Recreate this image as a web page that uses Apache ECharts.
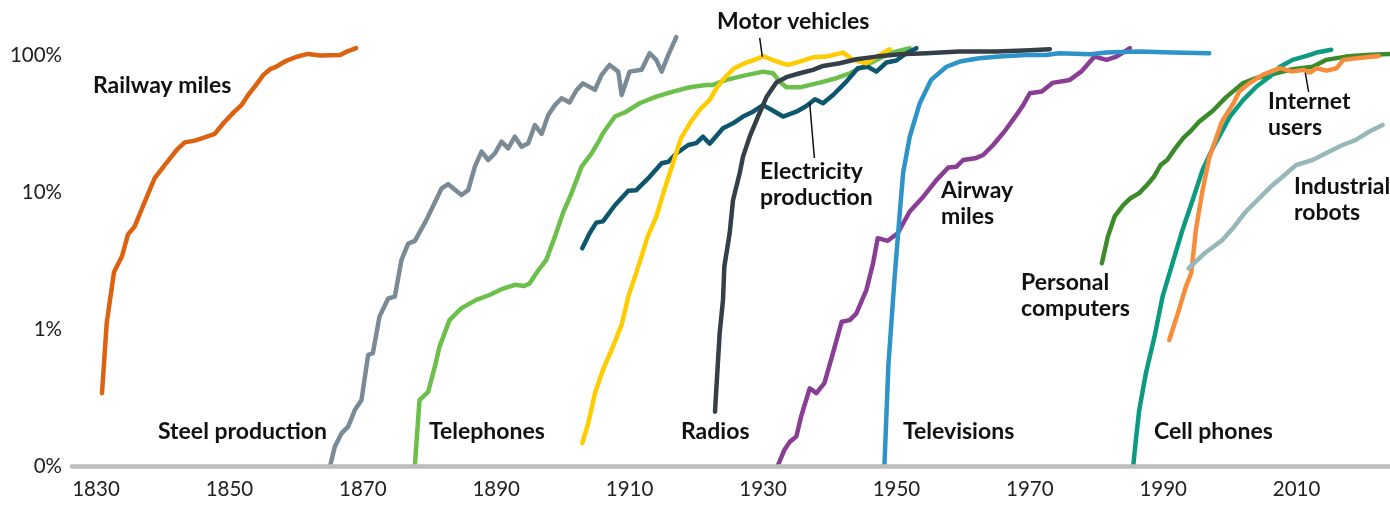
<!DOCTYPE html>
<html>
<head>
<meta charset="utf-8">
<title>Adoption curves</title>
<script src="https://cdn.jsdelivr.net/npm/echarts@6.0.0/dist/echarts.min.js"></script>
<style>
    html, body { margin: 0; padding: 0; background: #fff; }
    #main { width: 1390px; height: 508px; }
</style>
</head>
<body>
<div id="main"></div>
<script>
// x tick labels (years)
var yearTicks = [1830, 1850, 1870, 1890, 1910, 1930, 1950, 1970, 1990, 2010];

// each series: [year, percent]
var railwayMiles = [[1830.9,0.34],[1831.6,1.1],[1832.7,2.6],[1833.9,3.4],[1834.8,4.9],[1835.8,5.6],[1837.1,8.0],[1838.8,12.6],[1840.3,15.7],[1842.1,20.3],[1843.3,23],[1844.8,23.7],[1846.3,25],[1847.8,26.5],[1849.1,31.7],[1850.6,37.9],[1851.8,43],[1852.8,51],[1853.8,58.7],[1855.1,71.5],[1856.1,78.7],[1856.8,81],[1858.6,91],[1860.1,97],[1861.8,101.7],[1863.6,99],[1866.6,100],[1867.6,105.7],[1869.0,112]];
var steelProduction = [[1865.1,0.1],[1865.8,0.138],[1866.8,0.173],[1867.8,0.194],[1868.8,0.256],[1869.8,0.303],[1870.8,0.646],[1871.5,0.665],[1872.5,1.23],[1873.8,1.67],[1874.8,1.72],[1875.8,3.19],[1876.8,4.2],[1877.8,4.4],[1879.5,6.2],[1881.8,10.6],[1882.8,11.4],[1884.8,9.5],[1885.8,10.3],[1886.8,15.3],[1887.8,19.7],[1888.8,17.1],[1889.8,19.1],[1890.8,23.3],[1891.8,20.8],[1892.8,25.3],[1893.8,21.4],[1894.8,22.7],[1895.8,30.8],[1896.8,26.5],[1897.8,36.5],[1898.8,43],[1899.8,48.3],[1901,45],[1902,55],[1903,62],[1904.8,55.6],[1905.8,71.5],[1907,84.5],[1908.3,75.5],[1908.8,51],[1910,75.5],[1911.8,78],[1913,103],[1914,92],[1914.8,75.5],[1915.8,100],[1917,135]];
var telephones = [[1877.8,0.1],[1878.5,0.303],[1879.8,0.348],[1880.8,0.531],[1881.5,0.743],[1883,1.16],[1884.8,1.42],[1887,1.63],[1889,1.77],[1890.8,1.95],[1892.8,2.1],[1894.2,2.06],[1895,2.15],[1896,2.55],[1897.5,3.19],[1898.8,4.72],[1900,7.0],[1901.3,9.8],[1902.8,15.3],[1904.3,19.1],[1905.5,24],[1906,26.8],[1907.8,35.5],[1909.5,38.5],[1911.5,44.4],[1914,49.6],[1916.5,54],[1919,58.1],[1921.5,60.4],[1922.5,60.4],[1924.5,65.7],[1927,70.3],[1930,75.5],[1931.5,73.5],[1932.5,63.8],[1933.5,58],[1935.5,58],[1938.5,62.8],[1941,67.6],[1943,73.5],[1945,82],[1947,92],[1949,103],[1952,112]];
var electricityProduction = [[1902.9,3.88],[1904,5.0],[1905,5.97],[1906,6.1],[1907.8,8.0],[1909.8,10.2],[1911,10.3],[1913,12.9],[1914.8,16.2],[1915.8,16.6],[1917,19.1],[1918.8,22],[1920,22.7],[1921,25.3],[1922,22.5],[1924,29.2],[1925.5,31.7],[1927,35.5],[1928.5,38.5],[1930,43],[1931.2,40],[1933,35.5],[1935,38.5],[1936.5,42.4],[1937.8,47.5],[1939,44.4],[1940.5,51],[1942.5,63.8],[1944.2,80],[1945.7,82],[1947,75.5],[1948.5,88],[1950,91],[1951.5,103],[1953,112]];
var motorVehicles = [[1902.9,0.147],[1903.8,0.205],[1904.8,0.34],[1906,0.502],[1907.5,0.743],[1908.8,1.07],[1909.8,1.72],[1911.3,2.85],[1912.7,4.72],[1914,6.6],[1915.2,10.3],[1916.5,16.2],[1917.7,24.7],[1919.2,32.6],[1920.7,40.8],[1922,47],[1923,57],[1924.2,67.6],[1925.7,80],[1927.5,88],[1929,93],[1930,98],[1931.2,93],[1932.5,88],[1933.7,84.5],[1935.5,89.4],[1937.5,96],[1939.5,97.2],[1942,104],[1943.5,92],[1945.5,87],[1947.5,100],[1949,110]];
var radios = [[1922.8,0.249],[1923.2,0.53],[1923.5,0.93],[1924,1.63],[1924.2,2.85],[1925,5.0],[1925.5,8.7],[1926.5,13.7],[1927,18.1],[1928,25.3],[1929.2,35],[1930.5,49],[1932,63],[1933.5,68.8],[1935.5,73.5],[1937.5,77.8],[1939,83.1],[1941.5,87],[1944,93],[1947,97.2],[1950.5,101],[1954.5,103],[1959.4,105.7],[1965,106],[1970,108],[1973,110]];
var airwayMiles = [[1932.2,0.1],[1933.2,0.131],[1934,0.15],[1935,0.164],[1935.7,0.229],[1937,0.369],[1938,0.34],[1939.2,0.402],[1940.2,0.594],[1941.8,1.13],[1943,1.16],[1944,1.3],[1945.5,1.93],[1946.5,3.02],[1947.2,4.6],[1948.7,4.4],[1950.2,5.0],[1952,7.2],[1954,9.2],[1956,12.2],[1957.8,15.1],[1959,15.3],[1960,17.1],[1961.8,17.6],[1963,18.6],[1964.5,22],[1966.2,27.6],[1968,36.5],[1969,43],[1970,52.5],[1971.8,54],[1973.4,62.5],[1976,65.7],[1977.7,75.5],[1979.7,97.2],[1981.5,92],[1983,97.2],[1985,112]];
var televisions = [[1948.2,0.1],[1948.8,0.55],[1949.7,2.28],[1950.5,7.0],[1951,13.7],[1952,25.3],[1953.5,44.4],[1955.2,65.7],[1957.5,82],[1959.5,89.4],[1962.4,94.6],[1965.4,97.2],[1969.4,100],[1972.4,100],[1974.4,103],[1979,101],[1981.5,104],[1986.4,106],[1991.3,104],[1996.9,103]];
var personalComputers = [[1980.8,3.02],[1981.7,4.72],[1982.7,6.6],[1984,8.0],[1985.1,9.0],[1986.4,9.8],[1987.6,11.3],[1988.6,12.9],[1989.6,15.7],[1990.6,17.1],[1991.8,20.8],[1993,24.7],[1994.3,28.4],[1995.4,32.6],[1997.4,39],[1999.4,49],[2001.9,62],[2003.9,67.6],[2006.9,73.5],[2009.4,78.7],[2012.4,82],[2014.4,92],[2017.4,97.2],[2020.4,100],[2023.9,101.7]];
var cellPhones = [[1985.5,0.1],[1985.9,0.155],[1986.4,0.256],[1987.4,0.475],[1988.7,0.88],[1989.9,1.72],[1991.4,3.02],[1992.9,5.3],[1994.4,8.7],[1995.9,14.5],[1997.4,20.8],[1999.2,30],[2000,35.5],[2002,47],[2004,58.8],[2006,69.5],[2007.5,82],[2009.4,92],[2011.5,98.3],[2013,104],[2015.2,109]];
var internetUsers = [[1990.9,0.83],[1992.2,1.3],[1993.4,2.04],[1994.2,2.55],[1994.9,5.3],[1995.9,10.3],[1996.9,17.8],[1998.8,32.6],[2000.6,45],[2001.4,54],[2002.9,62],[2004.9,71.5],[2007.5,80],[2009.4,75.5],[2011,77.8],[2012,74.3],[2013,80],[2014.5,76.8],[2016,80],[2017,92],[2019,94.6],[2022.3,98.3]];
var industrialRobots = [[1993.8,2.77],[1996.2,3.57],[1998.9,4.47],[2000.4,5.4],[2002.4,7.2],[2004.1,8.7],[2006.1,10.9],[2007.9,12.9],[2009.9,15.7],[2012.4,17.1],[2014.9,19.7],[2016.9,22],[2018.9,24],[2020.9,27.6],[2022.9,30.8]];

// callout leader lines: [from, to] in data space
var motorCallout = [[1929.5,133],[1929.9,96.7]];
var electricityCallout = [[1937.0,44.6],[1937.7,17.7]];
var internetCallout = [[2011.3,74],[2011.8,53.7]];

function lineSeries(name, data, color, callout) {
    var s = {
        name: name,
        type: 'line',
        data: data,
        showSymbol: false,
        symbol: 'none',
        smooth: false,
        silent: true,
        lineStyle: { color: color, width: 4.5, cap: 'round', join: 'round' },
        z: 2
    };
    if (callout) {
        s.markLine = {
            silent: true,
            symbol: ['none', 'none'],
            label: { show: false },
            lineStyle: { color: '#111', width: 1.5, type: 'solid' },
            data: [[{ coord: callout[0] }, { coord: callout[1] }]]
        };
    }
    return s;
}

var labelFont = 'bold 23px Lato';
function note(text, x, y) {
    return {
        type: 'text',
        left: x,
        top: y,
        z: 10,
        style: { text: text, font: labelFont, fill: '#111', lineHeight: 26 }
    };
}

var chart = echarts.init(document.getElementById('main'), null, { renderer: 'canvas' });
var option = {
    animation: false,
    backgroundColor: '#fff',
    grid: { left: 72, right: 0, top: 30, bottom: 42, containLabel: false },
    xAxis: {
        type: 'value',
        min: 1826.4,
        max: 2024,
        z: 3,
        axisLine: { show: true, lineStyle: { color: '#BDBDBD', width: 4.5 } },
        axisTick: { show: false },
        splitLine: { show: false },
        axisLabel: {
            customValues: yearTicks,
            margin: 13,
            color: '#222',
            fontFamily: 'Lato',
            fontSize: 20.5,
            formatter: function (v) { return String(Math.round(v)); }
        }
    },
    yAxis: {
        type: 'log',
        logBase: 10,
        min: 0.1,
        max: 152,
        axisLine: { show: false },
        axisTick: { show: false },
        splitLine: { show: false },
        axisLabel: {
            margin: 10,
            color: '#222',
            fontFamily: 'Lato',
            fontSize: 20.5,
            formatter: function (v) {
                var e = Math.log10(v);
                if (Math.abs(e - Math.round(e)) > 1e-6) return '';
                e = Math.round(e);
                if (e < 0) return '0%';
                return Math.pow(10, e) + '%';
            }
        }
    },
    series: [
        lineSeries('Railway miles', railwayMiles, '#DD6210'),
        lineSeries('Steel production', steelProduction, '#7B8A97'),
        lineSeries('Telephones', telephones, '#6CBF4B'),
        lineSeries('Electricity production', electricityProduction, '#0D566E', electricityCallout),
        lineSeries('Motor vehicles', motorVehicles, '#FFCC00', motorCallout),
        lineSeries('Radios', radios, '#353F47'),
        lineSeries('Airway miles', airwayMiles, '#8A3D94'),
        lineSeries('Televisions', televisions, '#2D93C8'),
        lineSeries('Personal computers', personalComputers, '#3B8B2A'),
        lineSeries('Cell phones', cellPhones, '#0C9A80'),
        lineSeries('Internet users', internetUsers, '#F68D3D', internetCallout),
        lineSeries('Industrial robots', industrialRobots, '#97B7BA')
    ],
    graphic: [
        note('Railway miles', 93, 73),
        note('Steel production', 158, 419),
        note('Telephones', 429, 419),
        note('Motor vehicles', 717, 9),
        note('Radios', 681, 419),
        note('Electricity\nproduction', 760, 159),
        note('Televisions', 903, 419),
        note('Airway\nmiles', 941, 178),
        note('Personal\ncomputers', 1021, 270),
        note('Cell phones', 1154, 419),
        note('Internet\nusers', 1268, 89),
        note('Industrial\nrobots', 1294, 174)
    ]
};
chart.setOption(option);
window.addEventListener('resize', chart.resize);
</script>
</body>
</html>
